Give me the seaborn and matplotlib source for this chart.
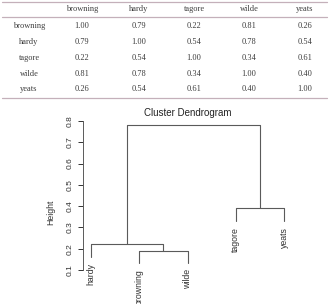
import numpy as np
import pandas as pd
import matplotlib
matplotlib.use("Agg")
import matplotlib.pyplot as plt
import seaborn as sns

# correlation table
poets = ["browning", "hardy", "tagore", "wilde", "yeats"]
corr_browning = [1.00, 0.79, 0.22, 0.81, 0.26]
corr_hardy = [0.79, 1.00, 0.54, 0.78, 0.54]
corr_tagore = [0.22, 0.54, 1.00, 0.34, 0.61]
corr_wilde = [0.81, 0.78, 0.34, 1.00, 0.40]
corr_yeats = [0.26, 0.54, 0.61, 0.40, 1.00]
y_ticks = [0.1, 0.2, 0.3, 0.4, 0.5, 0.6, 0.7, 0.8]

corr = pd.DataFrame([corr_browning, corr_hardy, corr_tagore, corr_wilde, corr_yeats],
                    index=poets, columns=poets)
dist = 1 - corr.values


def complete_linkage(d):
    # plain complete linkage, R hclust style ordering of the merges
    members = {i: [i] for i in range(len(d))}
    height = {i: 0.0 for i in range(len(d))}
    children = {}
    next_id = len(d)
    while len(members) > 1:
        keys = list(members)
        best = None
        for i in range(len(keys)):
            for j in range(i + 1, len(keys)):
                a, b = keys[i], keys[j]
                h = max(d[p, q] for p in members[a] for q in members[b])
                if best is None or h < best[0]:
                    best = (h, a, b)
        h, a, b = best
        # singleton first, otherwise the older cluster first
        if a >= len(d) and b < len(d):
            a, b = b, a
        children[next_id] = (a, b)
        height[next_id] = h
        members[next_id] = members.pop(a) + members.pop(b)
        next_id += 1
    return children, height, next_id - 1


children, height, root = complete_linkage(dist)

order = []
def walk(n):
    if n in children:
        walk(children[n][0])
        walk(children[n][1])
    else:
        order.append(n)
walk(root)

xpos = {leaf: k + 1 for k, leaf in enumerate(order)}
def set_x(n):
    if n in children:
        l, r = children[n]
        xpos[n] = (set_x(l) + set_x(r)) / 2
    return xpos[n]
set_x(root)

merge_h = [height[n] for n in children]
hang = 0.1 * (max(merge_h) - min(merge_h))

rows = []
leaf_y = {}
for n, (l, r) in children.items():
    h = height[n]
    ys = []
    for c in (l, r):
        if c in children:
            ys.append(height[c])
        else:
            ys.append(h - hang)
            leaf_y[c] = h - hang
    pts = [(xpos[l], ys[0]), (xpos[l], h), (xpos[r], h), (xpos[r], ys[1])]
    for k, (px, py) in enumerate(pts):
        rows.append({"seg": n, "step": k, "x": px, "y": py})
segs = pd.DataFrame(rows)

sns.set_style("white")
plt.rcParams["font.family"] = ["Liberation Sans", "DejaVu Sans"]

fig = plt.figure(figsize=(3.29, 3.04), dpi=100)

# ---- table at the top ----
W, H = 329.0, 304.0
line_col = "#c4b0ba"
txt_col = "#3c3c3c"
col_x = [82, 139, 194, 249, 305]
row_y = [26, 42, 58, 74, 89]
for yy in (1.5, 17, 98):
    fig.add_artist(plt.Line2D([2 / W, 327 / W], [1 - yy / H, 1 - yy / H],
                              color=line_col, lw=0.9))
serif = dict(family="Liberation Serif", fontsize=6, color=txt_col,
             ha="center", va="center")
for name, cx in zip(poets, col_x):
    fig.text(cx / W, 1 - 9 / H, name, **serif)
for i, name in enumerate(poets):
    fig.text(29 / W, 1 - row_y[i] / H, name, **serif)
    for j, cx in enumerate(col_x):
        fig.text(cx / W, 1 - row_y[i] / H, f"{corr.iloc[i, j]:.2f}", **serif)

# ---- dendrogram ----
ax = fig.add_axes([83 / W, 0, 209 / W, (304 - 119.7) / H])
sns.lineplot(data=segs, x="x", y="y", units="seg", estimator=None, sort=False,
             color="#5a5a5a", lw=0.8, ax=ax)
for leaf, xv in xpos.items():
    if leaf in children:
        continue
    ax.text(xv, leaf_y[leaf] - 0.028, poets[leaf], rotation=90, ha="center",
            va="top", fontsize=6.3, color="#333333")

ax.set_xlim(0.84, 5.16)
ax.set_ylim(-0.06, 0.806)
ax.set_xticks([])
ax.set_yticks(y_ticks)
ax.set_yticklabels([f"{t:.1f}" for t in y_ticks])
ax.tick_params(axis="y", labelrotation=90, length=3.6, width=0.7, pad=3,
               labelsize=6, colors="#333333", left=True)
for lbl in ax.get_yticklabels():
    lbl.set_va("center")
for s in ("top", "right", "bottom"):
    ax.spines[s].set_visible(False)
ax.spines["left"].set_bounds(0.1, 0.8)
ax.spines["left"].set_color("#5a5a5a")
ax.spines["left"].set_linewidth(0.7)
ax.set_xlabel("")
ax.set_ylabel("Height", fontsize=6.3, color="#333333")
ax.yaxis.set_label_coords(-0.135, 0.5)
ax.set_title("Cluster Dendrogram", fontsize=7, color="#222222", pad=2.5)
ax.patch.set_alpha(0)

fig.savefig("out.png", dpi=100)
